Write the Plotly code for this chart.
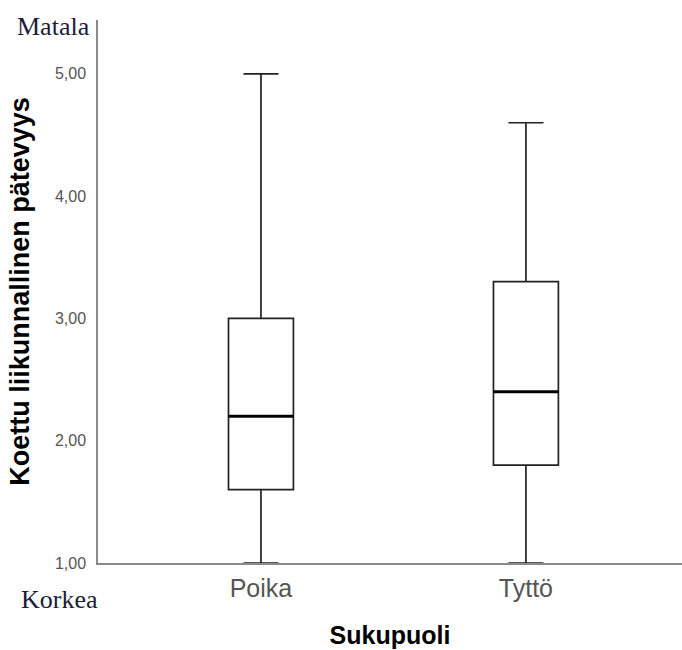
import plotly.graph_objects as go

# Box plot summary statistics per group
categories = ["Poika", "Tyttö"]
lower_whisker = [1.0, 1.0]
q1_values = [1.6, 1.8]
median_values = [2.2, 2.4]
q3_values = [3.0, 3.3]
upper_whisker = [5.0, 4.6]

y_tick_values = [1, 2, 3, 4, 5]
y_tick_labels = ["1,00", "2,00", "3,00", "4,00", "5,00"]

box_width = 0.245
positions = list(range(len(categories)))

fig = go.Figure()
for i, cat in enumerate(categories):
    fig.add_trace(go.Box(
        x=[positions[i]],
        q1=[q1_values[i]],
        median=[median_values[i]],
        q3=[q3_values[i]],
        lowerfence=[lower_whisker[i]],
        upperfence=[upper_whisker[i]],
        name=cat,
        width=box_width,
        whiskerwidth=0.54,
        fillcolor="white",
        line=dict(color="#222222", width=1.7),
        boxpoints=False,
        showlegend=False,
        hoverinfo="skip",
    ))
    # heavier median stroke
    fig.add_shape(
        type="line", xref="x", yref="y",
        x0=positions[i] - box_width / 2, x1=positions[i] + box_width / 2,
        y0=median_values[i], y1=median_values[i],
        line=dict(color="black", width=3),
    )

serif = "Liberation Serif, Times New Roman, serif"

fig.update_layout(
    width=682, height=650,
    margin=dict(l=98, r=0, t=20, b=87),
    plot_bgcolor="white", paper_bgcolor="white",
    font=dict(family="Arial, Liberation Sans, sans-serif"),
    xaxis=dict(
        range=[-0.615, 1.589],
        tickvals=positions, ticktext=categories,
        tickfont=dict(size=25, color="#555555"),
        showgrid=False, zeroline=False,
        showline=True, linecolor="#8a8a8a", linewidth=1.5,
        ticks="", ticklabelstandoff=2,
        title=dict(text="<b>Sukupuoli</b>", font=dict(size=25, color="black"), standoff=26),
    ),
    yaxis=dict(
        range=[1.0, 5.44],
        tickvals=y_tick_values, ticktext=y_tick_labels,
        tickfont=dict(size=16, color="#555555"),
        showgrid=False, zeroline=False,
        showline=True, linecolor="#8a8a8a", linewidth=1.5,
        ticks="", ticklabelstandoff=7,
        title=dict(text="<b>Koettu liikunnallinen pätevyys</b>", font=dict(size=27, color="black"), standoff=17),
    ),
    annotations=[
        dict(text="Matala", xref="paper", yref="paper", x=-0.01, y=1.0,
             xanchor="right", yanchor="middle", yshift=-6, showarrow=False,
             font=dict(family=serif, size=26, color="#1c1c3a")),
        dict(text="Korkea", xref="paper", yref="paper", x=0.003, y=0.0,
             xanchor="right", yanchor="middle", yshift=-36, showarrow=False,
             font=dict(family=serif, size=26, color="#1c1c3a")),
    ],
)

fig.write_html("out.html")
